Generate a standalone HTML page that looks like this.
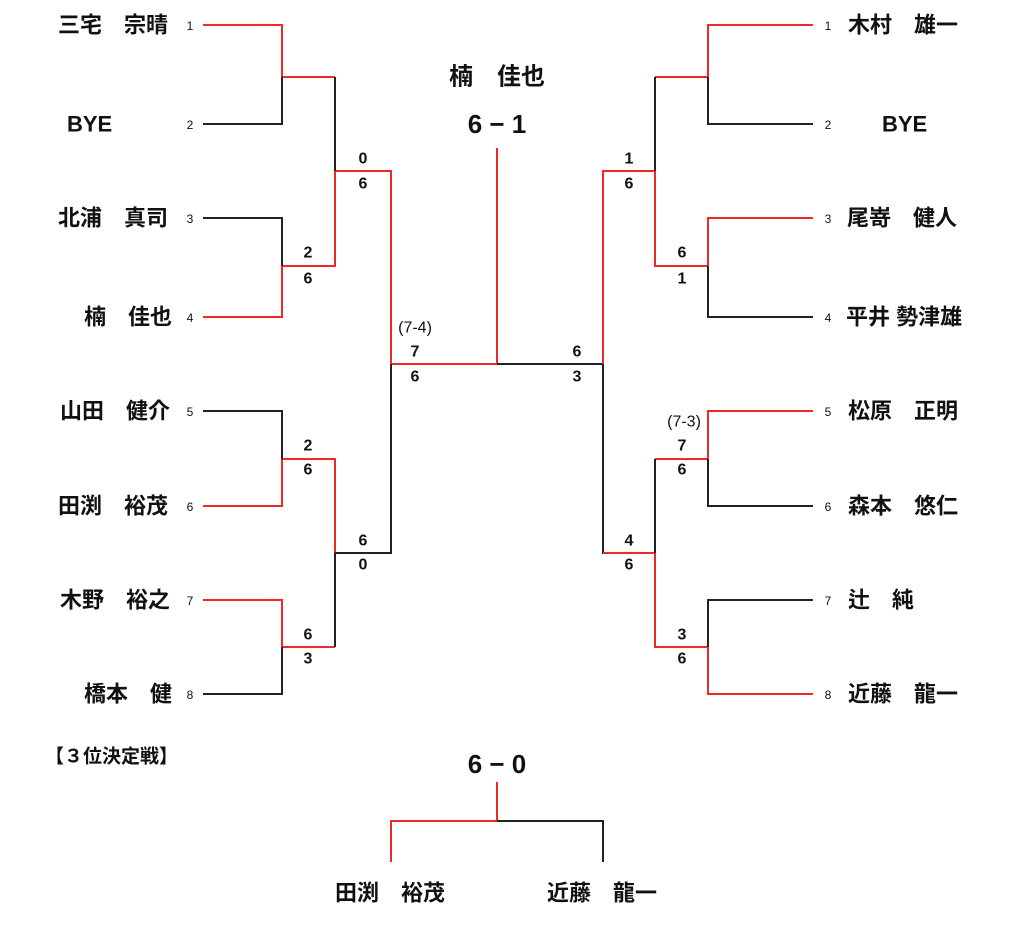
<!DOCTYPE html>
<html><head><meta charset="utf-8"><style>
html,body{margin:0;padding:0;background:#fff}
svg{display:block}
text{font-family:"Liberation Sans","Noto Sans CJK JP",sans-serif;fill:#111}
.n{font-size:22px;font-weight:bold}
.s{font-size:16px;font-weight:bold}
.g{font-size:12px;fill:#555}
.r{font-size:12px;fill:#f03030}
</style></head><body>
<svg width="1024" height="949" viewBox="0 0 1024 949" xmlns="http://www.w3.org/2000/svg">
<g fill="none" stroke-width="2">
<g stroke="#f02828">
<path d="M203 25H282V77H335"/>
<path d="M203 317H282V266H335V171H391V364H497V148"/>
<path d="M203 506H282V459H335V553"/>
<path d="M203 600H282V647H335"/>
</g>
<g stroke="#222">
<path d="M203 124H282V77"/>
<path d="M335 77V171"/>
<path d="M203 218H282V266"/>
<path d="M203 411H282V459"/>
<path d="M203 694H282V647"/>
<path d="M335 553V647"/>
<path d="M335 553H391V364"/>
<path d="M497 364H603V553H655"/>
</g>
<g stroke="#f02828">
<path d="M813 25H708V77H655"/>
<path d="M813 218H708V266H655V171H603V364"/>
<path d="M813 411H708V459H655"/>
<path d="M813 694H708V647H655V553H603"/>
</g>
<g stroke="#222">
<path d="M813 124H708V77"/>
<path d="M655 77V171"/>
<path d="M813 317H708V266"/>
<path d="M813 506H708V459"/>
<path d="M655 459V553"/>
<path d="M813 600H708V647"/>
</g>
<path stroke="#f02828" d="M391 862V821H497V782"/>
<path stroke="#222" d="M497 821H603V862"/>
</g>

<g dominant-baseline="central">
<text class="n" x="58" y="25">三宅　宗晴</text>
<text class="n" x="67" y="124">BYE</text>
<text class="n" x="58" y="218">北浦　真司</text>
<text class="n" x="84" y="317">楠　佳也</text>
<text class="n" x="60" y="411">山田　健介</text>
<text class="n" x="58" y="506">田渕　裕茂</text>
<text class="n" x="60" y="600">木野　裕之</text>
<text class="n" x="84" y="694">橋本　健</text>
<g class="g" text-anchor="middle">
<text x="190" y="26">1</text><text x="190" y="125">2</text><text x="190" y="219">3</text><text x="190" y="318">4</text>
<text x="190" y="412">5</text><text x="190" y="507">6</text><text x="190" y="601">7</text><text x="190" y="695">8</text>
</g>
<g class="r" text-anchor="middle">
<text x="828" y="26">1</text><text x="828" y="125">2</text><text x="828" y="219">3</text><text x="828" y="318">4</text>
<text x="828" y="412">5</text><text x="828" y="507">6</text><text x="828" y="601">7</text><text x="828" y="695">8</text>
</g>
<text class="n" x="848" y="25">木村　雄一</text>
<text class="n" x="882" y="124">BYE</text>
<text class="n" x="847" y="218">尾嵜　健人</text>
<text class="n" x="846" y="317">平井 勢津雄</text>
<text class="n" x="848" y="411">松原　正明</text>
<text class="n" x="848" y="506">森本　悠仁</text>
<text class="n" x="848" y="600">辻　純</text>
<text class="n" x="848" y="694">近藤　龍一</text>

<g class="s" text-anchor="middle">
<text x="308" y="253">2</text><text x="308" y="279">6</text>
<text x="363" y="159">0</text><text x="363" y="184">6</text>
<text x="308" y="446">2</text><text x="308" y="470">6</text>
<text x="363" y="541">6</text><text x="363" y="565">0</text>
<text x="308" y="635">6</text><text x="308" y="659">3</text>
<text x="415" y="328" style="font-weight:normal">(7-4)</text>
<text x="415" y="352">7</text><text x="415" y="377">6</text>
<text x="577" y="352">6</text><text x="577" y="377">3</text>
<text x="629" y="159">1</text><text x="629" y="184">6</text>
<text x="682" y="253">6</text><text x="682" y="279">1</text>
<text x="629" y="541">4</text><text x="629" y="565">6</text>
<text x="684" y="422" style="font-weight:normal">(7-3)</text>
<text x="682" y="446">7</text><text x="682" y="470">6</text>
<text x="682" y="635">3</text><text x="682" y="659">6</text>
</g>

<text class="n" x="497" y="77" text-anchor="middle" style="font-size:24px">楠　佳也</text>
<text x="497" y="124" text-anchor="middle" style="font-size:26px;font-weight:bold">6 − 1</text>
<text x="45" y="757" style="font-size:19px;font-weight:bold">【３位決定戦】</text>
<text x="497" y="764" text-anchor="middle" style="font-size:26px;font-weight:bold">6 − 0</text>
<text class="n" x="390" y="893" text-anchor="middle">田渕　裕茂</text>
<text class="n" x="602" y="893" text-anchor="middle">近藤　龍一</text>
</g>
</svg>
</body></html>
